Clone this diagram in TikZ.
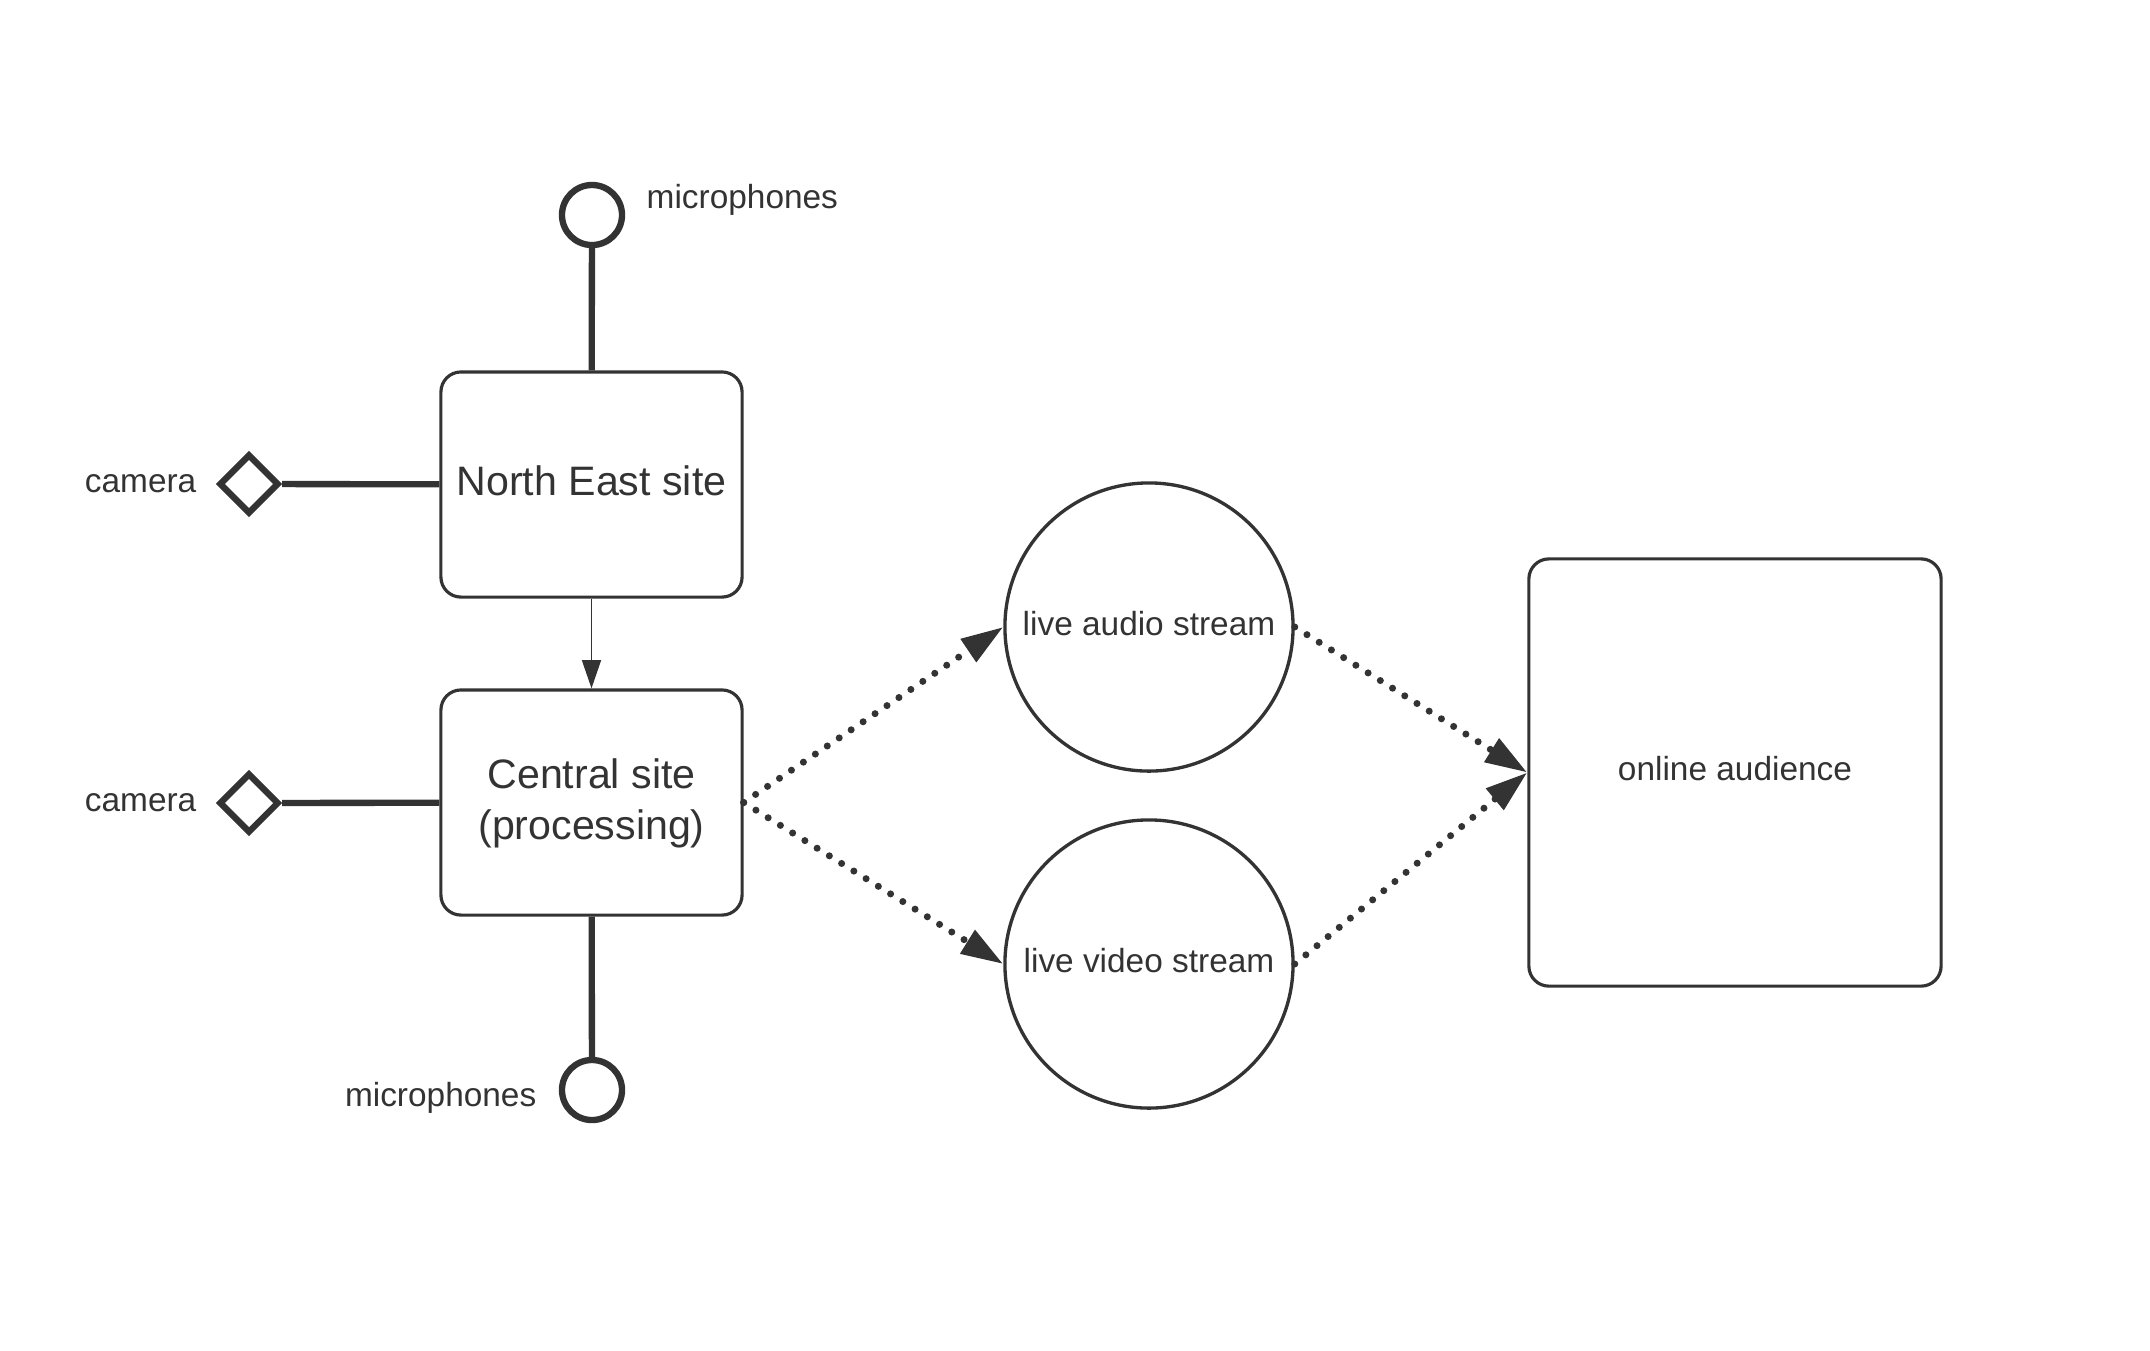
\documentclass[tikz,border=0pt]{standalone}
\usepackage{fontspec}
\setmainfont{Liberation Sans}
\usetikzlibrary{shapes.geometric,arrows.meta}
\definecolor{ink}{HTML}{333333}

\begin{document}
\begin{tikzpicture}[x=0.01cm,y=-0.01cm,draw=ink,text=ink,font=\fontsize{9.5}{11.5}\selectfont]
		\tikzstyle{site}=[draw,rounded corners=5.7pt,line width=0.9pt,minimum width=3.01cm,minimum height=2.25cm,align=center,text depth=2.2pt,font=\fontsize{11.7}{14.5}\selectfont]
		\tikzstyle{stream}=[circle,draw,line width=0.95pt,minimum size=2.88cm,inner sep=0pt,text depth=2.2pt]
		\tikzstyle{mic}=[circle,draw,line width=1.8pt,minimum size=0.6cm,inner sep=0pt]
		\tikzstyle{cam}=[diamond,draw,line width=1.8pt,minimum size=0.6cm,inner sep=0pt]
		\tikzstyle{annot}=[inner sep=0pt]
		\tikzstyle{wire}=[line width=1.8pt]
		\tikzstyle{flow}=[line width=2pt,dash pattern=on 0pt off 4.1pt,line cap=round,-{Triangle[length=12pt,width=7.5pt]}]
		
		\useasboundingbox (0,0) rectangle (2150,1350);
		
		% sites
		\node[site] (NE) at (591.5,484.5) {North East site};
		\node[site] (CS) at (591.5,802.5) {Central site\\(processing)};
		
		% microphones
		\node[mic] (M-1) at (592,215) {};
		\node[mic] (M-2) at (592,1090) {};
		\node[annot,anchor=west] at (646,200) {microphones};
		\node[annot,anchor=east] at (537,1098) {microphones};
		
		% cameras
		\foreach \name / \y in {1/484,2/803}
		{
			\node[cam] (C-\name) at (249,\y) {};
			\node[annot,anchor=east] at (197,\y) {camera};
		}
		
		% streams and audience
		\node[stream] (AS) at (1149,627) {live audio stream};
		\node[stream] (VS) at (1149,964) {live video stream};
		\node[draw,rounded corners=5.7pt,line width=0.9pt,text depth=2.2pt,minimum width=4.12cm,minimum height=4.27cm] (OA) at (1735,772.5) {online audience};
		
		% connectors
		\draw[wire] (M-1) -- (NE);
		\draw[wire] (CS) -- (M-2);
		\foreach \name / \site in {1/NE,2/CS}
			\draw[wire] (C-\name) -- (\site);
		\draw[line width=0.4pt,-{Triangle[length=8pt,width=5.4pt]}] (NE) -- (CS);
		
		\draw[flow] (CS.east) -- (AS.west);
		\draw[flow] (CS.east) -- (VS.west);
		\draw[flow] (AS.east) -- (OA.west);
		\draw[flow] (VS.east) -- (OA.west);
	\end{tikzpicture}
\end{document}
